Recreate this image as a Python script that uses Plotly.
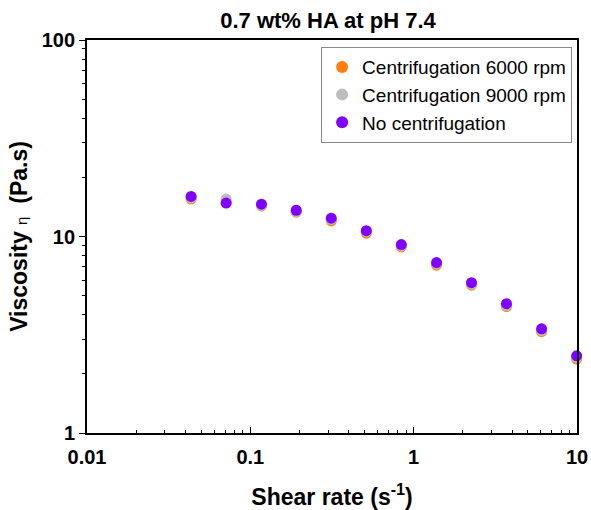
import plotly.graph_objects as go

shear_rate = [0.0434, 0.0711, 0.117, 0.191, 0.313, 0.513, 0.84, 1.38, 2.26, 3.70, 6.07, 9.95]
visc_6000 = [15.5, 14.9, 14.3, 13.3, 12.0, 10.4, 8.85, 7.15, 5.65, 4.40, 3.28, 2.38]
visc_9000 = [15.7, 15.5, 14.4, 13.4, 12.2, 10.6, 8.95, 7.25, 5.72, 4.45, 3.32, 2.42]
visc_none = [16.0, 14.8, 14.6, 13.6, 12.4, 10.7, 9.1, 7.37, 5.82, 4.55, 3.39, 2.47]

names = ["Centrifugation 6000 rpm", "Centrifugation 9000 rpm", "No centrifugation"]
colors = ["#FF7F0E", "#BDBDBD", "#7F00FF"]
x_ticks = [0.01, 0.1, 1, 10]
x_tick_labels = ["0.01", "0.1", "1", "10"]
y_ticks = [1, 10, 100]
y_tick_labels = ["1", "10", "100"]

fig = go.Figure()
for name, ys, c in zip(names, [visc_6000, visc_9000, visc_none], colors):
    fig.add_trace(go.Scatter(x=shear_rate, y=ys, mode="markers", name=name,
                             marker=dict(color=c, size=11, line=dict(width=0)),
                             cliponaxis=False))

minor_x = [m * 10**e for e in (-2, -1, 0) for m in range(2, 10)]
minor_y = [m * 10**e for e in (0, 1) for m in range(2, 10)]

FONT = "Arial, Liberation Sans, sans-serif"

fig.update_layout(
    width=591, height=510,
    margin=dict(l=87, r=14, t=40, b=77),
    paper_bgcolor="white", plot_bgcolor="white",
    font=dict(family=FONT, color="black"),
    title=dict(text="<b>0.7 wt% HA at pH 7.4</b>", x=0.555, xanchor="center",
               y=0.961, yanchor="middle", font=dict(size=22)),
    showlegend=True,
    legend=dict(x=0.99, y=0.982, xanchor="right", yanchor="top",
                bordercolor="#888888", borderwidth=1, bgcolor="white",
                font=dict(size=19), itemsizing="constant",
                tracegroupgap=0),
    xaxis=dict(type="log", range=[-2, 1], showline=True, linecolor="black", linewidth=1.8,
               mirror=True, showgrid=False, zeroline=False, automargin=False,
               ticks="inside", ticklen=6, tickwidth=1.3, tickcolor="black",
               tickvals=x_ticks, ticktext=["<b>%s</b>" % t for t in x_tick_labels],
               tickfont=dict(size=20, family=FONT), ticklabelstandoff=5,
               ticklabeloverflow="allow",
               minor=dict(tickvals=minor_x, ticks="inside", ticklen=3, tickcolor="black", showgrid=False),
               title=dict(text="<b>Shear rate (s<sup>-1</sup>)</b>", font=dict(size=23), standoff=27)),
    yaxis=dict(type="log", range=[0, 2], showline=True, linecolor="black", linewidth=1.8,
               mirror=True, showgrid=False, zeroline=False, automargin=False,
               ticks="outside", ticklen=6, tickwidth=1.3, tickcolor="black",
               tickvals=y_ticks, ticktext=["<b>%s</b>" % t for t in y_tick_labels],
               tickfont=dict(size=20, family=FONT),
               minor=dict(tickvals=minor_y, ticks="outside", ticklen=3, tickcolor="black", showgrid=False),
               title=dict(text="<b>Viscosity </b><span style='font-weight:normal;font-size:15px'>η</span><b>  (Pa.s)</b>",
                          font=dict(size=23), standoff=8)),
)

fig.write_html("out.html", config={"displayModeBar": False},
               post_script="document.body.style.margin='0';document.body.style.overflow='hidden';")
